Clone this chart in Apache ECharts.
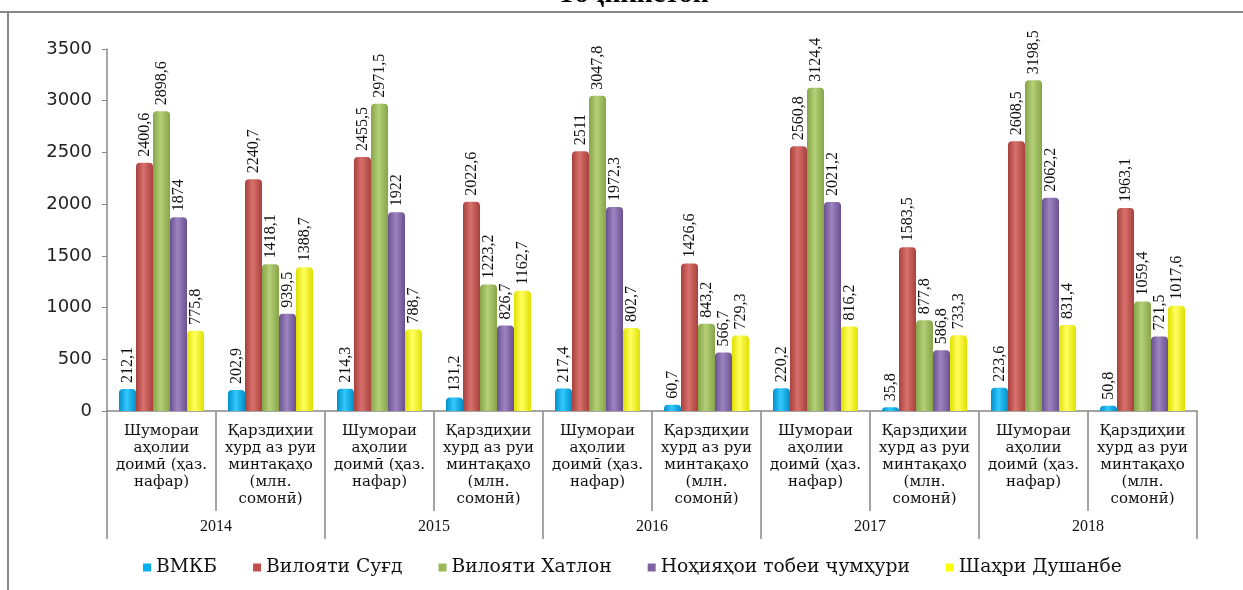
<!DOCTYPE html>
<html>
<head>
<meta charset="utf-8">
<script src="https://cdn.jsdelivr.net/npm/echarts@6/dist/echarts.min.js"></script>
</head>
<body style="margin:0;background:#fff;">
<div id="main" style="width:1243px;height:590px;"></div>
<script type="text/javascript">
    // категорияҳо ва солҳо
    var catPop = 'Шумораи\nаҳолии\nдоимӣ (ҳаз.\nнафар)';
    var catLoan = 'Қарздиҳии\nхурд аз руи\nминтақаҳо\n(млн.\nсомонӣ)';
    var categories = [catPop, catLoan, catPop, catLoan, catPop, catLoan, catPop, catLoan, catPop, catLoan];
    var years = ['2014', '2015', '2016', '2017', '2018'];
    var yTicks = [0, 500, 1000, 1500, 2000, 2500, 3000, 3500];

    var seriesNames = ['ВМКБ', 'Вилояти Суғд', 'Вилояти Хатлон', 'Ноҳияҳои тобеи ҷумҳури', 'Шаҳри Душанбе'];
    var vmkb     = [212.1, 202.9, 214.3, 131.2, 217.4, 60.7, 220.2, 35.8, 223.6, 50.8];
    var sughd    = [2400.6, 2240.7, 2455.5, 2022.6, 2511, 1426.6, 2560.8, 1583.5, 2608.5, 1963.1];
    var khatlon  = [2898.6, 1418.1, 2971.5, 1223.2, 3047.8, 843.2, 3124.4, 877.8, 3198.5, 1059.4];
    var nohiya   = [1874, 939.5, 1922, 826.7, 1972.3, 566.7, 2021.2, 586.8, 2062.2, 721.5];
    var dushanbe = [775.8, 1388.7, 788.7, 1162.7, 802.7, 729.3, 816.2, 733.3, 831.4, 1017.6];

    var colors = [
        ['#0090c8', '#33c8ff'],
        ['#a8403d', '#d8706c'],
        ['#86a448', '#b4d078'],
        ['#6a5090', '#9c84c0'],
        ['#e0e000', '#ffff60']
    ];
    var data = [vmkb, sughd, khatlon, nohiya, dushanbe];
    var legendColors = ['#00B0F0', '#C0504D', '#9BBB59', '#8064A2', '#FFFF00'];

    var myChart = echarts.init(document.getElementById('main'));

    var series = data.map(function (vals, i) {
        return {
            name: seriesNames[i],
            type: 'bar',
            data: vals,
            barGap: '0%',
            barCategoryGap: '22%',
            itemStyle: {
                borderRadius: [4, 4, 0, 0],
                color: new echarts.graphic.LinearGradient(0, 0, 1, 0, [
                    {offset: 0, color: colors[i][0]},
                    {offset: 0.45, color: colors[i][1]},
                    {offset: 1, color: colors[i][0]}
                ])
            },
            label: {
                show: true,
                position: 'top',
                rotate: 90,
                align: 'left',
                verticalAlign: 'middle',
                distance: 6,
                fontFamily: 'Liberation Serif',
                fontSize: 16,
                color: '#111',
                formatter: function (p) { return String(p.value).replace('.', ','); }
            }
        };
    });

    var option = {
        color: legendColors,
        animation: false,
        graphic: [
            {type: 'line', shape: {x1: 0, y1: 12, x2: 1243, y2: 12}, style: {stroke: '#888', lineWidth: 2}},
            {type: 'line', shape: {x1: 8, y1: 12, x2: 8, y2: 590}, style: {stroke: '#888', lineWidth: 2}},
            {type: 'text', x: 633, y: 9, style: {text: 'Тоҷикистон', font: 'bold 28px "Liberation Serif"', fill: '#000', align: 'center', verticalAlign: 'bottom'}}
        ],
        legend: {
            bottom: 8,
            left: 138,
            itemWidth: 8,
            itemHeight: 8,
            itemGap: 36,
            icon: 'rect',
            textStyle: {fontFamily: 'DejaVu Serif', fontSize: 18.7, color: '#111'},
            data: seriesNames.map(function (n, i) { return {name: n, itemStyle: {color: legendColors[i]}}; })
        },
        grid: {left: 107, right: 46, top: 49, bottom: 179},
        xAxis: [
            {
                type: 'category',
                data: categories,
                position: 'bottom',
                axisLine: {lineStyle: {color: '#888', width: 1.5}},
                axisTick: {show: true, alignWithLabel: false, length: 100, interval: 0, lineStyle: {color: '#888', width: 1.5}},
                axisLabel: {interval: 0, margin: 12, fontFamily: 'DejaVu Serif', fontSize: 15, lineHeight: 17, color: '#111'}
            },
            {
                type: 'category',
                data: years,
                position: 'bottom',
                axisLine: {show: false},
                axisTick: {show: true, length: 128, interval: 0, lineStyle: {color: '#888', width: 1.5}},
                axisLabel: {interval: 0, margin: 108, fontFamily: 'Liberation Serif', fontSize: 16, color: '#111'}
            }
        ],
        yAxis: {
            type: 'value',
            min: 0,
            max: 3500,
            interval: 500,
            axisLine: {show: true, lineStyle: {color: '#888', width: 1.5}},
            axisTick: {show: true, length: 5, lineStyle: {color: '#888'}},
            splitLine: {show: false},
            axisLabel: {
                margin: 15,
                fontFamily: 'DejaVu Sans',
                fontSize: 18,
                color: '#222',
                formatter: function (v) { return yTicks.indexOf(v) >= 0 ? String(v) : ''; }
            }
        },
        series: series
    };
    myChart.setOption(option);
</script>
</body>
</html>
